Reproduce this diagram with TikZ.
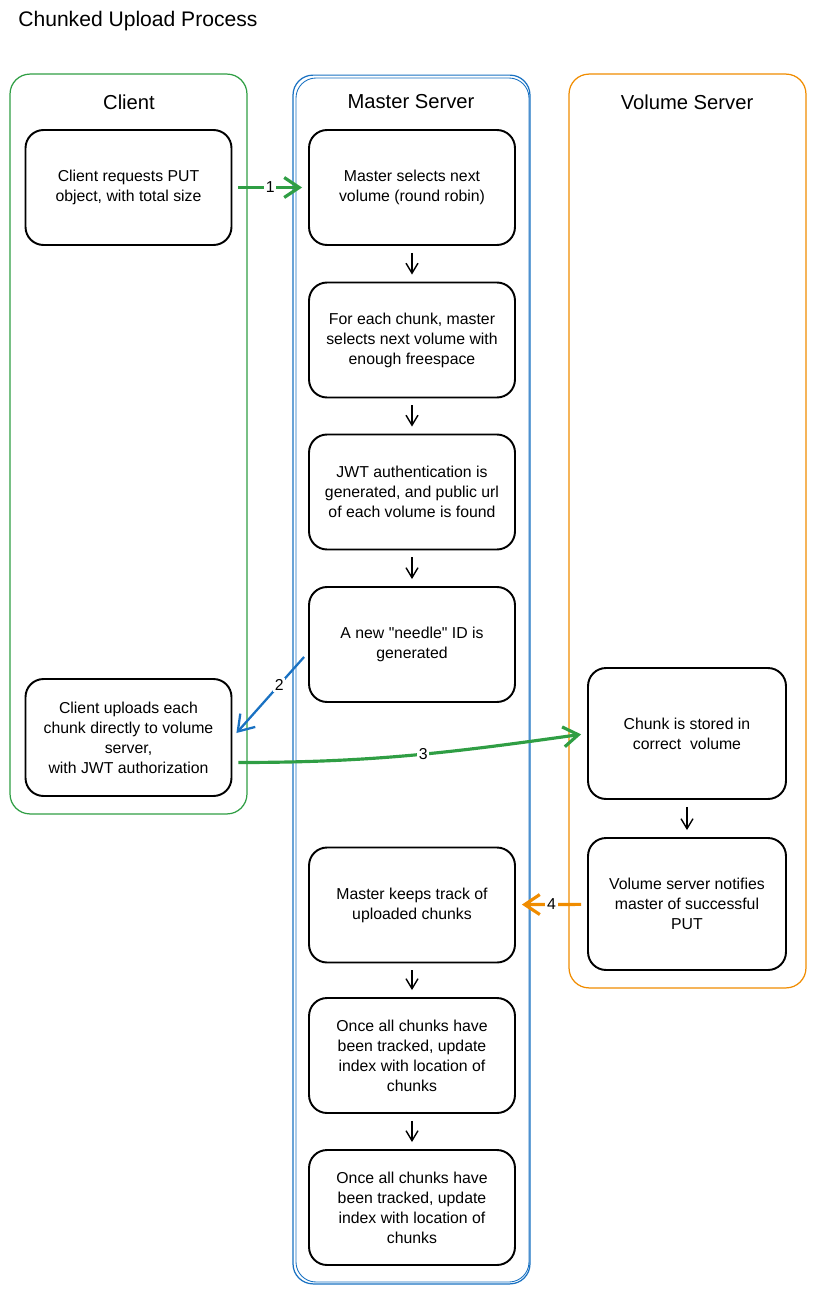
\documentclass[tikz,border=0pt]{standalone}
\usepackage{fontspec}
\setmainfont{Liberation Sans}
\usetikzlibrary{arrows.meta}
\definecolor{lanegreen}{HTML}{2F9E44}
\definecolor{laneblue}{HTML}{1971C2}
\definecolor{laneorange}{HTML}{F08C00}

\begin{document}
\begin{tikzpicture}[x=0.02cm,y=-0.02cm,
  lane/.style={draw=#1,rounded corners=0.4cm,line width=0.7pt,minimum width=4.74cm},
  lanetitle/.style={font=\fontsize{11.5}{14}\selectfont},
  stepbox/.style={draw,rounded corners=0.36cm,line width=1.1pt,minimum width=4.12cm,
    minimum height=2.3cm,align=center,font=\fontsize{9}{11.34}\selectfont},
  flow/.style={-{Straight Barb[length=2mm,width=2.4mm]},line width=0.8pt,
    shorten >=0.14cm,shorten <=0.14cm},
  msg/.style={-{Straight Barb[length=3mm,width=4mm]},line width=1.8pt,
    shorten >=0.12cm,shorten <=0.12cm},
  num/.style={fill=white,text=black,inner sep=1pt,font=\fontsize{9}{11}\selectfont}]
\useasboundingbox (0,0) rectangle (816,1294);

\node[anchor=west,inner sep=0,font=\fontsize{12}{14}\selectfont] (title) at (18,21) {Chunked Upload Process};

% swim lanes
\node[lane=lanegreen,minimum height=14.8cm] (clientlane) at (128.5,444) {};
\node[lane=laneblue,minimum height=24.18cm] (masterlane) at (411.5,679.5) {};
\draw[laneblue,line width=0.5pt,rounded corners=0.4cm] (296,78) rectangle (529,1282);
\node[lane=laneorange,minimum height=18.28cm] (volumelane) at (687.5,531) {};
\node[lanetitle] (clienttitle) at (129,102) {Client};
\node[lanetitle] (mastertitle) at (411,102) {Master Server};
\node[lanetitle] (volumetitle) at (687,102) {Volume Server};

% steps
\node[stepbox] (c1) at (128.5,187.5) {Client requests PUT\\object, with total size};
\node[stepbox] (m1) at (412,187.5) {Master selects next\\volume (round robin)};
\node[stepbox] (m2) at (412,340) {For each chunk, master\\selects next volume with\\enough freespace};
\node[stepbox] (m3) at (412,492) {JWT authentication is\\generated, and public url\\of each volume is found};
\node[stepbox] (m4) at (412,644.5) {A new \textquotedbl needle\textquotedbl\ ID is\\generated};
\node[stepbox,minimum height=2.34cm] (c2) at (128.5,737.5) {Client uploads each\\chunk directly to volume\\server,\\with JWT authorization};
\node[stepbox,minimum width=3.96cm,minimum height=2.62cm] (v1) at (687,733.5) {Chunk is stored in\\correct\ \ volume};
\node[stepbox,minimum width=3.96cm,minimum height=2.64cm] (v2) at (687,904) {Volume server notifies\\master of successful\\PUT};
\node[stepbox] (m5) at (412,905) {Master keeps track of\\uploaded chunks};
\node[stepbox] (m6) at (412,1055.5) {Once all chunks have\\been tracked, update\\index with location of\\chunks};
\node[stepbox] (m7) at (412,1207.5) {Once all chunks have\\been tracked, update\\index with location of\\chunks};

% master flow
\draw[flow] (m1) edge (m2);
\draw[flow] (m2) edge (m3);
\draw[flow] (m3) edge (m4);
\draw[flow] (m5) edge (m6);
\draw[flow] (m6) edge (m7);
\draw[flow] (v1) edge (v2);

% messages
\draw[msg,lanegreen] (c1) edge node[num] {1} (m1);
\draw[msg,laneblue,line width=1.3pt] ([yshift=-0.16cm]m4.west) -- node[num,pos=0.38] {2} (c2.east);
\draw[msg,lanegreen] ([yshift=-0.5cm]c2.east) to[out=0,in=188] node[num,pos=0.54] {3} (v1.west);
\draw[msg,laneorange] (v2) edge node[num] {4} (m5);
\end{tikzpicture}
\end{document}
